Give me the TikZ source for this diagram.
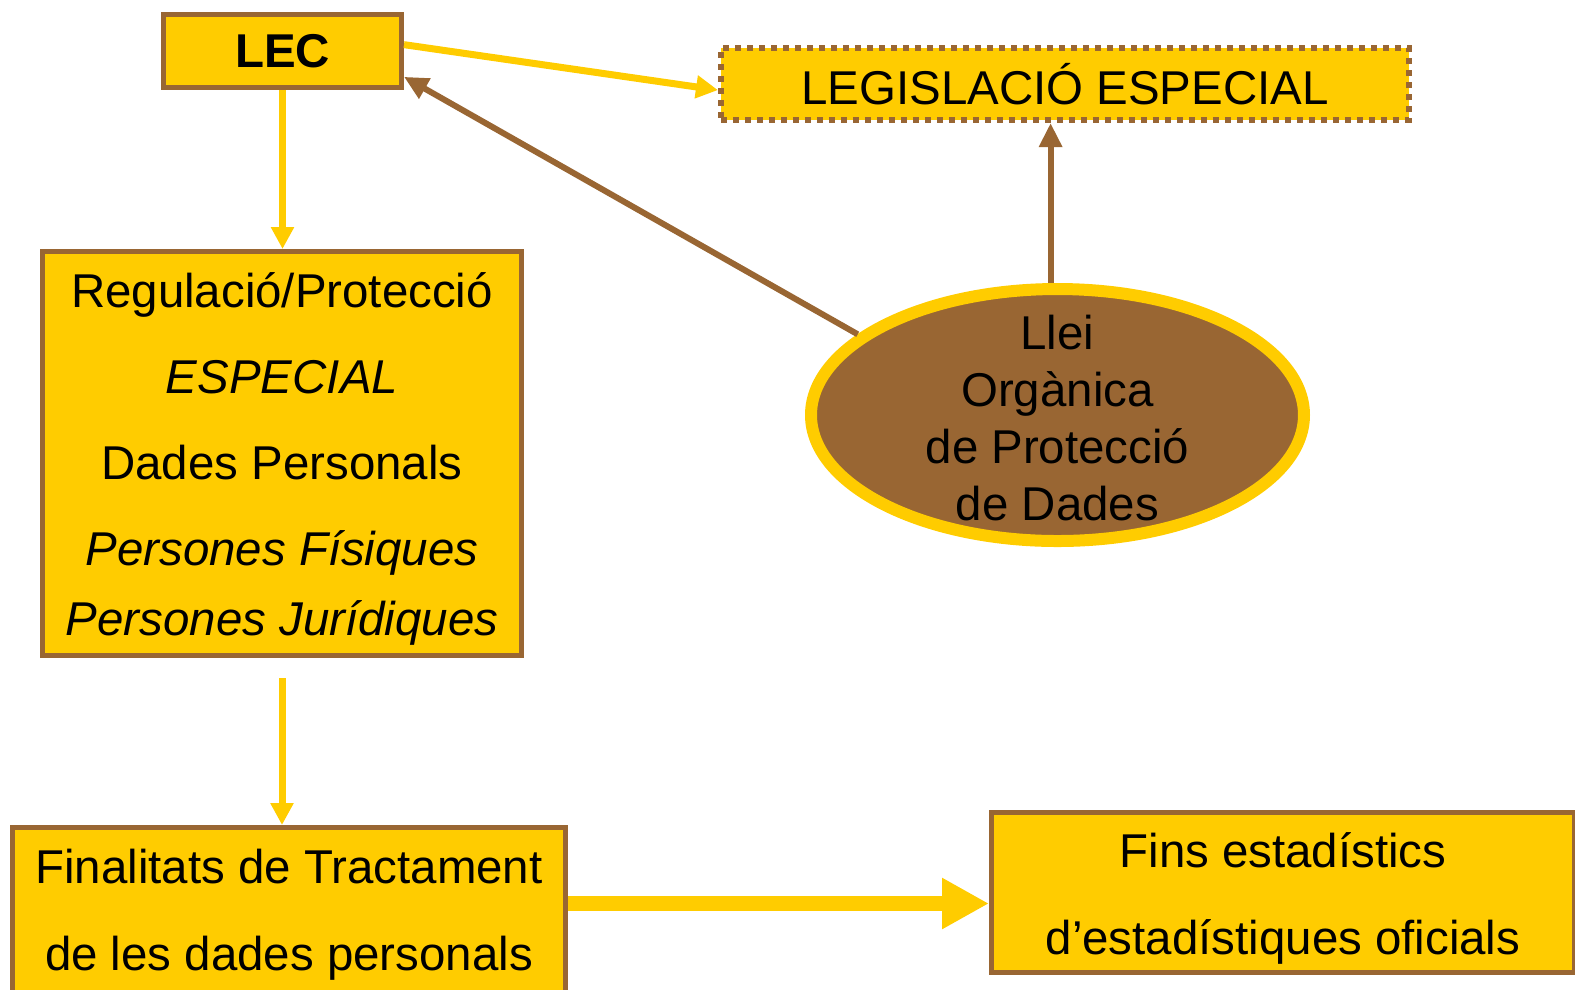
\documentclass[tikz,border=0pt]{standalone}
\usepackage{fontspec}
\setmainfont{Liberation Sans}
\usetikzlibrary{arrows.meta, calc, positioning, shapes.geometric}
\definecolor{gold}{HTML}{FFCC00}
\definecolor{brownish}{HTML}{996633}

\begin{document}
\begin{tikzpicture}[
  font=\fontsize{13.5}{16.2}\selectfont,
  box/.style={draw=brownish, fill=gold, line width=0.05cm, align=center, inner sep=0pt},
  yarrow/.style={draw=gold, line width=0.07cm, -{Triangle[width=0.22cm,length=0.22cm]}},
  barrow/.style={draw=brownish, line width=0.06cm, -{Triangle[width=0.22cm,length=0.24cm]}},
  bigarrow/.style={draw=gold, line width=0.15cm, -{Triangle[width=0.48cm,length=0.47cm]}}]
		\useasboundingbox (0,0) rectangle (15.75,-9.89);

		\node(lec)    [box, minimum width=2.38cm, minimum height=0.73cm] at (2.825,-0.51) {\textbf{LEC}};
		\node(legis)  [box, line width=0.06cm, dash pattern=on 0.06cm off 0.06cm, minimum width=6.88cm, minimum height=0.72cm] at (10.65,-0.84) {LEGISLACIÓ ESPECIAL};
		\node(regul)  [box, minimum width=4.79cm, minimum height=4.04cm] at (2.82,-4.535) {\rule{0pt}{13.2pt}Regulació/Protecció\\[8.3pt]\textit{ESPECIAL}\\[8.3pt]Dades Personals\\[8.3pt]\textit{Persones Físiques}\\[3.7pt]\textit{Persones Jurídiques}};
		\node(llei)   [ellipse, draw=gold, fill=brownish, line width=0.12cm, inner xsep=0pt, inner ysep=-0.4cm, align=center, minimum width=4.93cm, minimum height=2.52cm] at (10.575,-4.15) {\rule{0pt}{11.4pt}Llei\\Orgànica\\de Protecció\\de Dades};
		\node(final)  [box, minimum width=5.53cm, minimum height=1.65cm] at (2.89,-9.1) {\rule{0pt}{12.5pt}Finalitats de Tractament\\[8.6pt]de les dades personals};
		\node(fins)   [box, minimum width=5.83cm, minimum height=1.60cm] at (12.83,-8.925) {\rule{0pt}{13.2pt}Fins estadístics\\[8.6pt]d’estadístiques oficials};

		\draw[yarrow] (lec.3) -- (legis.181);
		\draw[yarrow] (lec.south) -- (lec.south |- regul.north);
		\draw[barrow] (llei.158) -- (lec.-12);
		\draw[barrow] (llei.93) -- (llei.93 |- legis.south);
		\draw[yarrow, shorten <=0.2cm] (regul.south) -- (regul.south |- final.north);
		\draw[bigarrow] ([yshift=-0.11cm]fins.west -| final.east) -- ([yshift=-0.11cm]fins.west);
		\end{tikzpicture}
\end{document}
